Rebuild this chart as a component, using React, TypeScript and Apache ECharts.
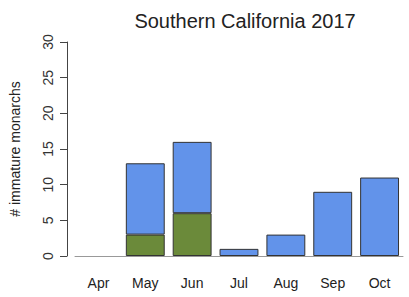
import React, { useEffect, useRef } from "react";
import * as echarts from "echarts";

const months = ["Apr", "May", "Jun", "Jul", "Aug", "Sep", "Oct"];
const greenValues: (number | null)[] = [null, 3, 6, null, null, null, null];
const blueValues: (number | null)[] = [null, 10, 10, 1, 3, 9, 11];
const yTicks = { min: 0, max: 30, interval: 5 };

const FONT = "'Liberation Sans', Arial, sans-serif";

export default function App() {
  const ref = useRef<HTMLDivElement>(null);
  useEffect(() => {
    if (!ref.current) return;
    const chart = echarts.init(ref.current, null, { renderer: "svg" });
    chart.setOption({
      animation: false,
      backgroundColor: "#ffffff",
      title: {
        text: "Southern California 2017",
        left: 240,
        top: 6,
        textAlign: "center",
        textStyle: { fontFamily: FONT, fontSize: 20, fontWeight: "normal", color: "#222" },
      },
      grid: { left: 74, right: 6, top: 42, bottom: 41 },
      xAxis: {
        type: "category",
        data: months,
        axisLine: { show: true, lineStyle: { color: "#999", width: 1 } },
        axisTick: { show: false },
        axisLabel: { fontFamily: FONT, fontSize: 14, color: "#222", margin: 20 },
      },
      yAxis: {
        type: "value",
        min: yTicks.min,
        max: yTicks.max,
        interval: yTicks.interval,
        offset: 8,
        name: "# immature monarchs",
        nameLocation: "middle",
        nameGap: 45,
        nameRotate: 90,
        nameTextStyle: { fontFamily: FONT, fontSize: 14, color: "#222" },
        axisLine: { show: true, lineStyle: { color: "#444", width: 1 } },
        axisTick: { show: true, length: 7, lineStyle: { color: "#444" } },
        splitLine: { show: false },
        axisLabel: { fontFamily: FONT, fontSize: 14, color: "#333", rotate: 90, margin: 12 },
      },
      series: [
        {
          type: "bar",
          stack: "total",
          data: greenValues,
          barCategoryGap: "17%",
          itemStyle: { color: "#6B8A3A", borderColor: "#333", borderWidth: 1 },
        },
        {
          type: "bar",
          stack: "total",
          data: blueValues,
          barCategoryGap: "17%",
          itemStyle: { color: "#6293EA", borderColor: "#333", borderWidth: 1 },
        },
      ],
    });
    return () => chart.dispose();
  }, []);
  return (
    <div
      ref={ref}
      style={{ position: "fixed", left: 0, top: 0, width: 409, height: 297 }}
    />
  );
}
